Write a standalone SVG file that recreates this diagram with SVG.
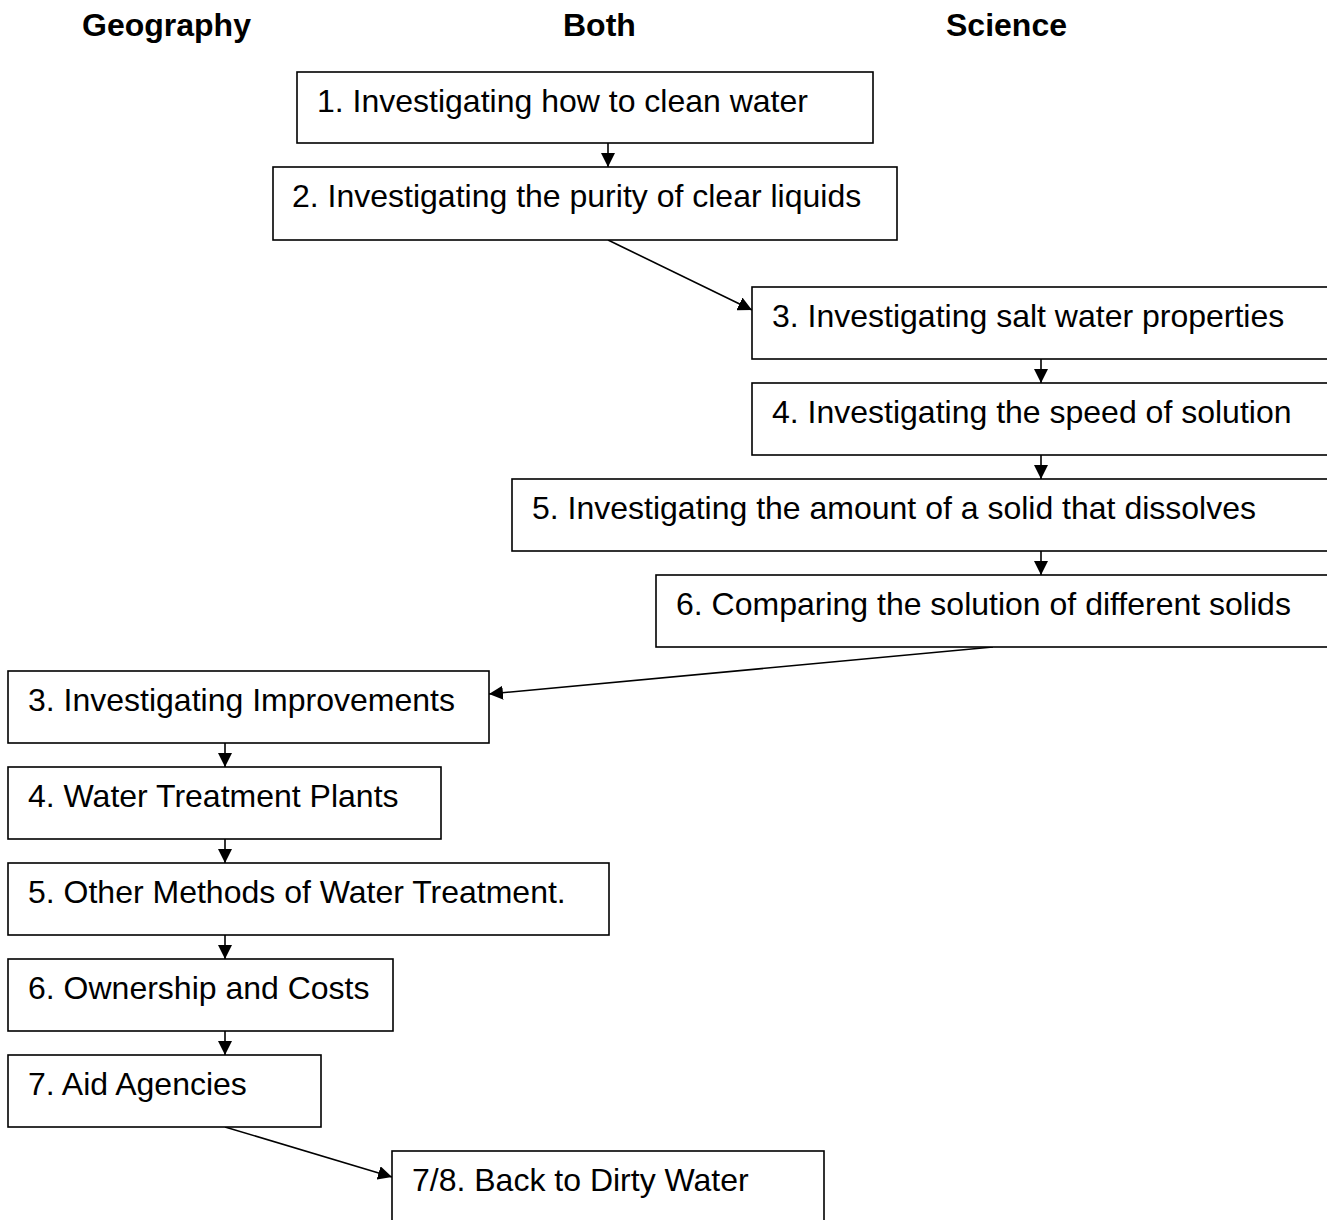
<svg xmlns="http://www.w3.org/2000/svg" width="1327" height="1220" viewBox="0 0 1327 1220">
<style>
.box{fill:#fff;stroke:#000;stroke-width:1.6}
.t{font-family:"Liberation Sans",Arial,sans-serif;font-size:32px;fill:#000}
.h{font-family:"Liberation Sans",Arial,sans-serif;font-size:32px;font-weight:bold;fill:#000}
.c{stroke:#000;stroke-width:1.6;fill:none;marker-end:url(#ah)}
</style>
<defs>
<marker id="ah" markerUnits="userSpaceOnUse" markerWidth="14" markerHeight="14" viewBox="0 0 14 14" refX="14" refY="7" orient="auto">
<path d="M0,0 L14,7 L0,14 Z" fill="#000"/>
</marker>
</defs>
<rect width="1327" height="1220" fill="#fff"/>
<g id="headers">
<text class="h" x="82" y="36">Geography</text>
<text class="h" x="563" y="36">Both</text>
<text class="h" x="946" y="36">Science</text>
</g>
<g id="connectors">
<line class="c" x1="608" y1="143" x2="608" y2="167"/>
<line class="c" x1="608" y1="240" x2="752" y2="310"/>
<line class="c" x1="1041" y1="359" x2="1041" y2="383"/>
<line class="c" x1="1041" y1="455" x2="1041" y2="479"/>
<line class="c" x1="1041" y1="551" x2="1041" y2="575"/>
<line class="c" x1="993" y1="647" x2="489" y2="694"/>
<line class="c" x1="225" y1="743" x2="225" y2="767"/>
<line class="c" x1="225" y1="839" x2="225" y2="863"/>
<line class="c" x1="225" y1="935" x2="225" y2="959"/>
<line class="c" x1="225" y1="1031" x2="225" y2="1055"/>
<line class="c" x1="225" y1="1127" x2="392" y2="1177"/>
</g>
<g id="b1"><rect class="box" x="297" y="72" width="576" height="71"/><text class="t" x="317" y="112">1. Investigating how to clean water</text></g>
<g id="b2"><rect class="box" x="273" y="167" width="624" height="73"/><text class="t" x="292" y="207">2. Investigating the purity of clear liquids</text></g>
<g id="s3"><rect class="box" x="752" y="287" width="590" height="72"/><text class="t" x="772" y="327">3. Investigating salt water properties</text></g>
<g id="s4"><rect class="box" x="752" y="383" width="590" height="72"/><text class="t" x="772" y="423">4. Investigating the speed of solution</text></g>
<g id="s5"><rect class="box" x="512" y="479" width="830" height="72"/><text class="t" x="532" y="519">5. Investigating the amount of a solid that dissolves</text></g>
<g id="s6"><rect class="box" x="656" y="575" width="686" height="72"/><text class="t" x="676" y="615">6. Comparing the solution of different solids</text></g>
<g id="g3"><rect class="box" x="8" y="671" width="481" height="72"/><text class="t" x="28" y="711">3. Investigating Improvements</text></g>
<g id="g4"><rect class="box" x="8" y="767" width="433" height="72"/><text class="t" x="28" y="807">4. Water Treatment Plants</text></g>
<g id="g5"><rect class="box" x="8" y="863" width="601" height="72"/><text class="t" x="28" y="903">5. Other Methods of Water Treatment.</text></g>
<g id="g6"><rect class="box" x="8" y="959" width="385" height="72"/><text class="t" x="28" y="999">6. Ownership and Costs</text></g>
<g id="g7"><rect class="box" x="8" y="1055" width="313" height="72"/><text class="t" x="28" y="1095">7. Aid Agencies</text></g>
<g id="b78"><rect class="box" x="392" y="1151" width="432" height="100"/><text class="t" x="412" y="1191">7/8. Back to Dirty Water</text></g>
</svg>
